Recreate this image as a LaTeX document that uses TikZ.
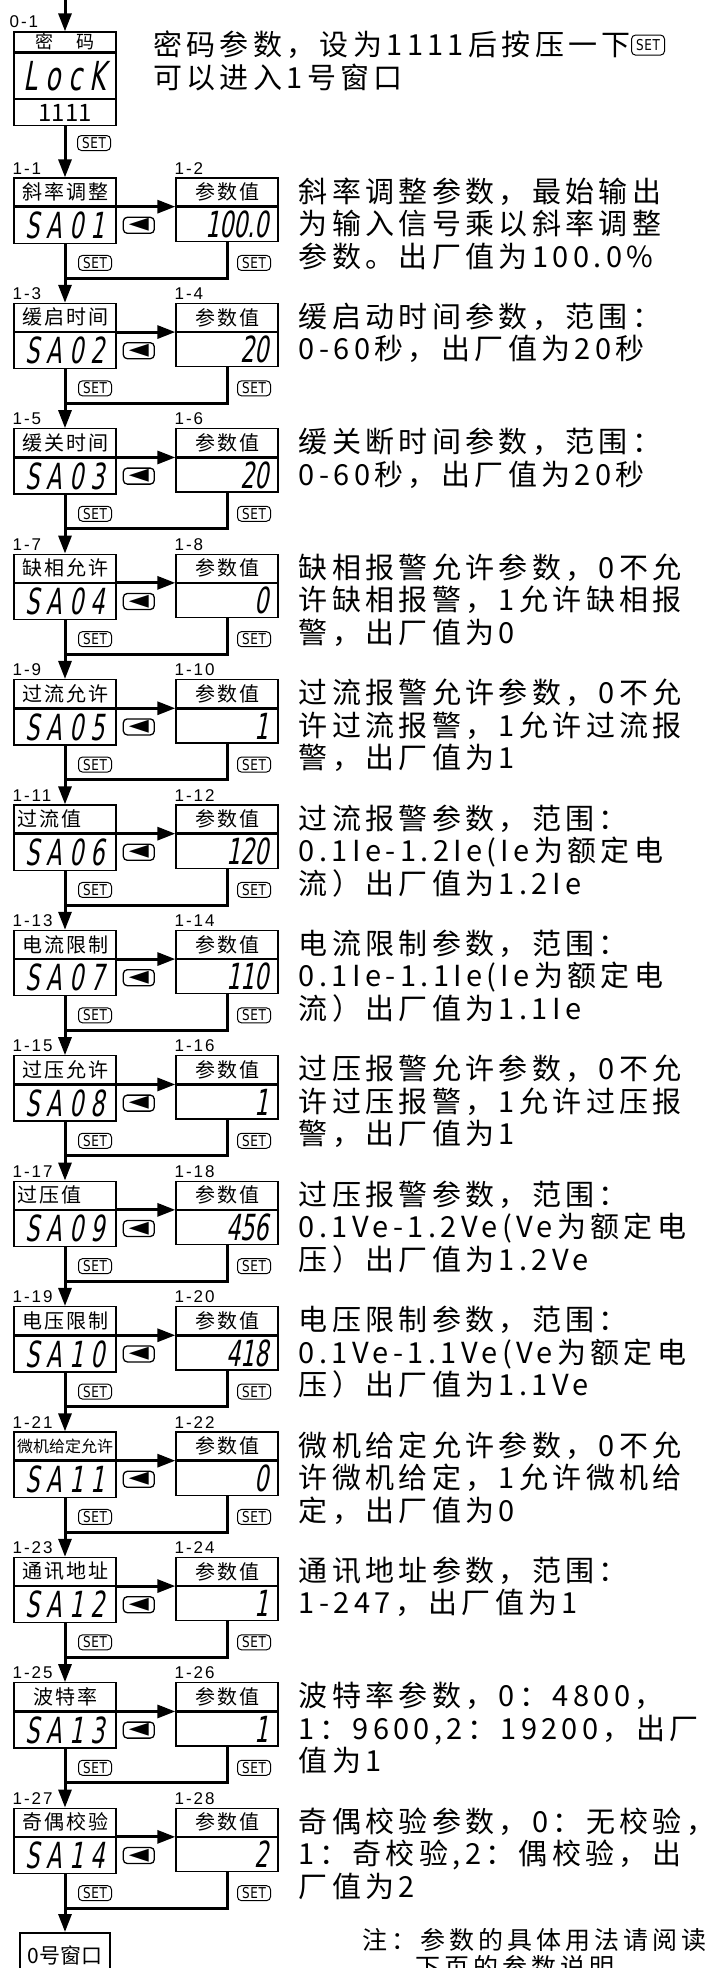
\documentclass[tikz,border=0pt]{standalone}
\usepackage{fontspec}
\setmainfont{Noto Sans CJK SC}
\newfontfamily\descfont{Noto Sans CJK SC}[LetterSpace=15]
\newfontfamily\notefont{Noto Sans CJK SC}[LetterSpace=16]
\newfontfamily\hdrfont{Noto Sans CJK SC}[LetterSpace=10]
\newfontfamily\plainfont{Noto Sans CJK SC}
\newfontfamily\lblfont{Liberation Sans}[LetterSpace=12]
\newfontfamily\segfont{DejaVu Sans}[FakeStretch=0.62,FakeSlant=0.18]
\newfontfamily\codefont{DejaVu Sans}[FakeStretch=0.62,FakeSlant=0.18,LetterSpace=20]
\newfontfamily\keyfont{DejaVu Sans}[FakeStretch=0.8,LetterSpace=4]
\newfontfamily\symfont{DejaVu Sans}
\newcommand\hdrsmall{\plainfont\fontsize{16}{16}\selectfont}
\usetikzlibrary{positioning,arrows.meta}

\tikzset{
  box/.style={draw, line width=1.3pt, inner sep=0pt, minimum width=102pt},
  hdr/.style={box, minimum height=28pt, text width=96pt, align=center,
    font=\hdrfont\fontsize{20}{20}\selectfont},
  codebox/.style={box, minimum height=36pt, font=\codefont\fontsize{36}{36}\selectfont},
  valbox/.style={box, minimum height=34pt, text width=84pt, align=right,
    inner xsep=9pt, font=\segfont\fontsize{36}{36}\selectfont},
  setkey/.style={draw, line width=1pt, rounded corners=4pt, minimum width=33pt,
    minimum height=15pt, inner sep=0pt, font=\keyfont\fontsize{15}{15}\selectfont},
  leftkey/.style={draw, line width=1.3pt, rounded corners=4pt, minimum width=31pt,
    minimum height=16pt, inner sep=0pt, font=\symfont\fontsize{26}{26}\selectfont},
  lbl/.style={inner sep=0pt, font=\lblfont\fontsize{17}{17}\selectfont},
  desc/.style={anchor=north west, align=left, inner sep=0pt,
    font=\descfont\fontsize{29}{32.5}\selectfont},
  link/.style={line width=3pt},
  arr/.style={link, -{Triangle[length=18pt,width=13pt]}}
}

\begin{document}
\begin{tikzpicture}[x=1pt, y=-1pt]
  \useasboundingbox (0,0) rectangle (720,1968);

  % password window 0-1
  \coordinate (entry) at (65,0);
  \node[box, minimum height=20pt, font=\plainfont\fontsize{18}{18}\selectfont] (pw) at (65,42) {密\hspace{24pt}码};
  \node[box, minimum height=45pt, font=\codefont\fontsize{40}{40}\selectfont, below=0pt of pw] (lk) {LocK};
  \node[box, minimum height=26pt, font=\plainfont\fontsize{24}{24}\selectfont, below=0pt of lk] (pn) {1111};
  \node[lbl, above right=3pt and -4pt of pw.north west] (L0) {0-1};
  \node[setkey] (S0) at (94,143) {SET};
  \draw[arr] (entry) -- (pw.north);

  \node[desc] (D00) at (153,31) {密码参数，设为1111后按压一下};
  \node[setkey, minimum height=20pt, right=0pt of D00] (SD0) {SET};
  \node[desc] (D01) at (153,64) {可以进入1号窗口};

  % parameter windows 1-1 ... 1-28
  \foreach \k/\name/\code/\val in {
      0/斜率调整/SA01/100.0, 1/缓启时间/SA02/20, 2/缓关时间/SA03/20,
      3/缺相允许/SA04/0, 4/过流允许/SA05/1, 5/{\makebox[96pt][l]{过流值}}/SA06/120,
      6/电流限制/SA07/110, 7/过压允许/SA08/1, 8/{\makebox[96pt][l]{过压值}}/SA09/456,
      9/电压限制/SA10/418, 10/{\hdrsmall 微机给定允许}/SA11/0, 11/通讯地址/SA12/1,
      12/波特率/SA13/1, 13/奇偶校验/SA14/2}{
    \pgfmathsetmacro\ty{178+125.4*\k}
    \pgfmathtruncatemacro\ta{2*\k+1}
    \pgfmathtruncatemacro\tb{2*\k+2}
    \node[hdr] (H\k) at (65,\ty+14) {\name};
    \node[codebox, below=0pt of H\k] (C\k) {\code};
    \node[hdr] (P\k) at (227,\ty+14) {参数值};
    \node[valbox, below=0pt of P\k] (V\k) {\val};
    \node[lbl, above right=3pt and -1pt of H\k.north west] (LA\k) {1-\ta};
    \node[lbl, above right=3pt and -1pt of P\k.north west] (LB\k) {1-\tb};
    \node[leftkey, right=6pt of C\k] (K\k) {◄};
    \node[setkey, below right=11pt and 13pt of C\k.south] (SL\k) {SET};
    \node[setkey, below right=13pt and 10pt of V\k.south] (SR\k) {SET};
    \coordinate (J\k) at (65,\ty+100);
    \draw[arr] (C\k.north east) -- (V\k.north west);
    \draw[link] (V\k.south) |- (J\k);
  }

  % window 0
  \node[box, line width=2pt, minimum width=90pt, minimum height=44pt,
    font=\plainfont\fontsize{21}{21}\selectfont] (win0) at (65,1955) {0号窗口};

  \draw[arr] (pn.south) -- (H0.north);
  \foreach \k in {0,...,12}{
    \pgfmathtruncatemacro\kn{\k+1}
    \draw[arr] (C\k.south) -- (H\kn.north);
  }
  \draw[arr] (C13.south) -- (win0.north);

  % explanations
  \node[desc] (D1) at ([xshift=20pt]P0.north east) {斜率调整参数，最始输出\\为输入信号乘以斜率调整\\参数。出厂值为100.0\%};
  \node[desc] (D2) at ([xshift=20pt]P1.north east) {缓启动时间参数，范围：\\0-60秒，出厂值为20秒};
  \node[desc] (D3) at ([xshift=20pt]P2.north east) {缓关断时间参数，范围：\\0-60秒，出厂值为20秒};
  \node[desc] (D4) at ([xshift=20pt]P3.north east) {缺相报警允许参数，0不允\\许缺相报警，1允许缺相报\\警，出厂值为0};
  \node[desc] (D5) at ([xshift=20pt]P4.north east) {过流报警允许参数，0不允\\许过流报警，1允许过流报\\警，出厂值为1};
  \node[desc] (D6) at ([xshift=20pt]P5.north east) {过流报警参数，范围：\\0.1Ie-1.2Ie(Ie为额定电\\流）出厂值为1.2Ie};
  \node[desc] (D7) at ([xshift=20pt]P6.north east) {电流限制参数，范围：\\0.1Ie-1.1Ie(Ie为额定电\\流）出厂值为1.1Ie};
  \node[desc] (D8) at ([xshift=20pt]P7.north east) {过压报警允许参数，0不允\\许过压报警，1允许过压报\\警，出厂值为1};
  \node[desc] (D9) at ([xshift=20pt]P8.north east) {过压报警参数，范围：\\0.1Ve-1.2Ve(Ve为额定电\\压）出厂值为1.2Ve};
  \node[desc] (D10) at ([xshift=20pt]P9.north east) {电压限制参数，范围：\\0.1Ve-1.1Ve(Ve为额定电\\压）出厂值为1.1Ve};
  \node[desc] (D11) at ([xshift=20pt]P10.north east) {微机给定允许参数，0不允\\许微机给定，1允许微机给\\定，出厂值为0};
  \node[desc] (D12) at ([xshift=20pt]P11.north east) {通讯地址参数，范围：\\1-247，出厂值为1};
  \node[desc] (D13) at ([xshift=20pt]P12.north east) {波特率参数，0：4800，\\1：9600,2：19200，出厂\\值为1};
  \node[desc] (D14) at ([xshift=20pt]P13.north east) {奇偶校验参数，0：无校验，\\1：奇校验,2：偶校验，出\\厂值为2};

  \node[desc, font=\notefont\fontsize{25}{27}\selectfont] (note) at (362,1928) {注：参数的具体用法请阅读\\\hspace*{53pt}下页的参数说明};
\end{tikzpicture}
\end{document}
